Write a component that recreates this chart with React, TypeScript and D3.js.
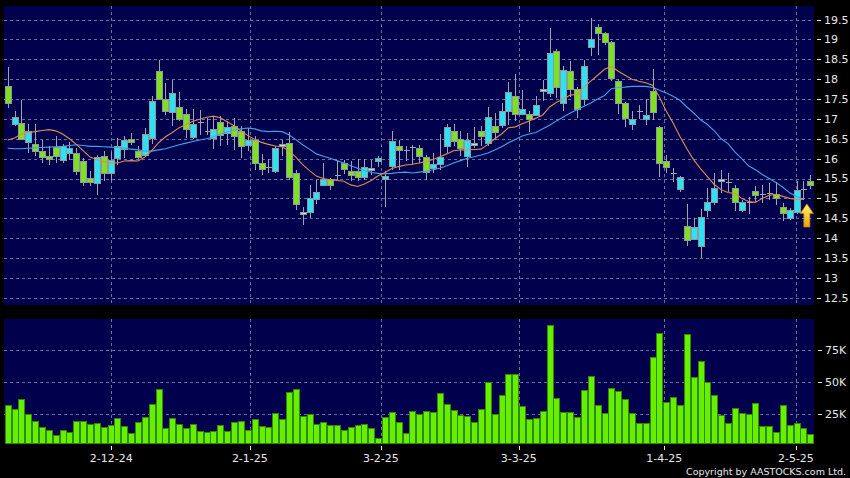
import React from 'react';
import * as d3 from 'd3';

const opens = [17.84,16.88,16.90,16.42,16.36,16.18,16.07,16.29,15.95,16.14,16.14,15.95,15.51,15.38,16.07,15.64,16.01,16.24,16.49,16.20,16.10,16.52,18.20,17.50,17.16,17.30,17.12,16.56,16.91,16.70,16.53,16.92,16.63,16.82,16.69,16.34,16.48,15.89,15.80,15.67,16.35,16.39,15.63,14.62,14.66,14.98,15.34,15.49,15.59,15.89,15.69,15.70,15.54,15.74,15.93,15.49,15.80,16.32,16.22,16.30,16.27,16.03,15.76,15.86,16.32,16.69,16.50,16.07,16.37,16.69,16.41,16.83,16.83,17.19,17.57,17.12,17.12,17.12,17.73,17.65,18.70,17.38,18.20,17.76,17.50,18.81,19.32,19.16,18.94,17.96,17.40,16.88,17.19,17.00,17.71,16.80,15.93,15.65,15.23,14.31,13.96,13.79,14.70,14.91,15.46,15.40,15.26,14.73,14.92,15.18,15.11,15.14,15.11,14.78,14.50,14.66,15.23,15.44];
const highs = [18.31,17.19,17.48,16.88,16.88,16.48,16.31,16.58,16.38,16.41,16.27,16.02,15.68,16.10,16.18,16.17,16.52,16.58,16.64,16.32,16.77,17.57,18.49,17.90,17.99,17.67,17.26,17.25,17.23,17.02,17.06,17.08,16.94,17.02,16.83,16.77,16.58,16.12,15.99,16.32,16.47,16.68,15.72,14.79,15.34,15.47,15.88,15.52,15.93,15.97,15.93,15.99,15.99,15.97,16.06,15.68,16.69,16.46,16.32,16.35,16.35,16.10,16.15,16.63,16.88,16.88,16.69,16.64,16.80,16.81,17.30,17.16,17.40,17.92,18.14,17.74,17.20,17.58,17.99,19.29,18.75,18.34,18.45,17.80,18.49,19.54,19.38,19.20,18.96,18.00,17.42,17.20,17.35,17.50,18.26,16.82,16.10,15.76,15.56,14.86,14.50,14.73,15.25,15.63,15.72,15.65,15.33,14.97,15.04,15.30,15.34,15.38,15.40,14.88,14.75,15.45,15.45,15.58];
const lows = [17.28,16.83,16.46,16.14,16.06,15.90,15.85,15.90,15.90,15.97,15.59,15.32,15.32,15.09,15.43,15.43,15.85,16.01,16.35,15.97,16.05,16.38,17.48,17.11,16.81,16.95,16.52,16.49,16.60,16.60,16.24,16.31,16.35,16.22,16.01,16.18,15.72,15.58,15.64,15.64,16.06,15.47,14.72,14.33,14.50,14.86,15.30,15.22,15.47,15.62,15.43,15.43,15.47,15.59,15.80,14.79,15.72,15.72,15.93,15.85,15.90,15.47,15.64,15.72,16.14,16.31,16.06,15.80,16.27,16.31,16.32,16.48,16.77,16.85,16.94,17.09,16.66,17.11,17.44,17.55,17.53,17.19,17.55,17.02,17.36,18.58,18.62,18.87,17.95,17.13,16.80,16.72,17.00,16.85,16.98,15.55,15.64,15.42,15.15,13.79,13.96,13.49,14.54,14.83,15.14,15.15,14.68,14.66,14.60,14.92,14.88,14.95,14.84,14.44,14.45,14.60,14.96,15.24];
const closes = [17.40,17.05,16.49,16.69,16.19,16.03,15.99,16.07,16.31,16.27,15.68,15.43,15.40,16.03,15.64,15.97,16.31,16.46,16.41,16.06,16.62,17.46,17.50,17.19,17.65,16.99,16.73,16.88,16.91,16.70,16.75,16.60,16.79,16.57,16.32,16.46,15.89,15.74,15.80,16.26,16.38,15.54,14.84,14.65,15.00,15.16,15.49,15.34,15.59,15.74,15.59,15.54,15.80,15.77,16.01,15.57,16.44,16.22,16.22,16.30,16.08,15.64,15.86,16.03,16.79,16.43,16.27,16.48,16.40,16.56,17.06,16.69,17.19,17.68,17.11,17.25,17.00,17.36,17.76,18.66,17.80,18.22,17.75,17.25,18.34,19.00,19.16,18.94,18.03,17.40,17.02,17.00,17.19,17.09,17.17,15.90,15.79,15.65,15.53,13.96,14.27,14.53,14.91,15.25,15.49,15.40,14.92,14.92,14.92,15.07,15.11,15.14,15.01,14.63,14.70,15.21,15.23,15.33];
const volumes = [31800,28900,36200,25000,19200,14800,12200,8500,12200,10600,19500,19200,16900,17400,14300,16300,21800,15300,9800,18400,22100,32600,44100,14000,21300,17100,14000,16600,11400,10400,11600,16100,11600,18200,19200,12200,20800,15300,14800,25500,20800,42200,44100,23200,24500,16900,18700,15900,16300,12200,14800,16100,16900,13700,5900,22600,26100,18400,9600,27300,24700,26800,26500,41400,32300,27900,23900,23200,18700,28600,50100,25000,39400,55900,56400,31200,20600,21800,26800,94600,37500,26500,26000,22600,43600,54600,31800,25300,45100,42500,36200,25700,17900,17900,69200,88100,34400,37800,31800,87500,54000,66600,50100,39600,23900,17900,29400,25700,25000,33600,15300,15300,10600,31800,16300,17400,13500,9300];
const ma10 = [16.47,16.52,16.62,16.66,16.68,16.71,16.73,16.70,16.62,16.50,16.36,16.20,16.04,15.98,15.92,15.90,15.89,15.94,15.95,15.94,16.04,16.20,16.40,16.55,16.66,16.78,16.86,16.94,16.99,17.04,17.07,17.03,16.93,16.83,16.70,16.58,16.48,16.41,16.36,16.32,16.30,16.20,16.04,15.85,15.70,15.56,15.50,15.47,15.45,15.43,15.34,15.30,15.36,15.45,15.57,15.65,15.75,15.80,15.84,15.86,15.89,15.93,15.98,16.05,16.12,16.20,16.22,16.22,16.23,16.24,16.36,16.50,16.62,16.78,16.80,16.88,16.95,17.02,17.10,17.30,17.42,17.50,17.60,17.62,17.80,17.95,18.10,18.25,18.32,18.20,18.10,18.00,17.95,17.91,17.85,17.55,17.20,16.90,16.56,16.25,15.97,15.75,15.55,15.35,15.22,15.15,15.12,15.00,14.92,14.90,15.00,15.08,15.10,15.05,15.00,14.97,14.98];
const ma20 = [16.26,16.25,16.25,16.26,16.27,16.28,16.29,16.30,16.31,16.33,16.35,16.33,16.31,16.31,16.30,16.29,16.28,16.26,16.24,16.22,16.19,16.19,16.22,16.25,16.30,16.35,16.39,16.43,16.47,16.50,16.55,16.62,16.67,16.72,16.75,16.77,16.75,16.70,16.68,16.69,16.68,16.60,16.48,16.35,16.24,16.12,16.06,16.01,15.95,15.89,15.82,15.76,15.70,15.65,15.63,15.62,15.63,15.65,15.66,15.64,15.66,15.68,15.72,15.76,15.82,15.89,15.95,16.01,16.05,16.09,16.14,16.22,16.30,16.40,16.48,16.57,16.62,16.66,16.75,16.84,16.95,17.05,17.15,17.23,17.32,17.40,17.50,17.59,17.76,17.79,17.80,17.82,17.82,17.82,17.79,17.72,17.65,17.57,17.47,17.30,17.15,16.98,16.86,16.70,16.50,16.38,16.17,16.00,15.82,15.72,15.60,15.50,15.40,15.28,15.14,15.05,14.98];

const dateLabels = ['2-12-24', '2-1-25', '3-2-25', '3-3-25', '1-4-25', '2-5-25'];
const dateTickIdx = [15.1, 35.3, 54.4, 74.5, 95.7, 114.9];
const priceTicks = [12.5, 13, 13.5, 14, 14.5, 15, 15.5, 16, 16.5, 17, 17.5, 18, 18.5, 19, 19.5];
const volTicks = [25000, 50000, 75000];
const volTickLabels = ['25K', '50K', '75K'];
const arrowIdx = 116.5;
const arrowPrice = 14.86;

const FONT = '"DejaVu Sans", Verdana, sans-serif';
const NAVY = '#00004c';
const GRID = '#6e6e9c';
const TXT = '#e8e8e8';
const GREEN = '#7ee01e';
const CYAN = '#2fe2f2';
const OUTLINE = '#8f9aa0';
const WICK = '#a4a4a4';

export default function App() {
  const N = opens.length;
  const mainT = 6, mainB = 305, volT = 319, volB = 443.5, L = 4, R = 814;
  const x = d3.scaleLinear().domain([0, N - 1]).range([7.7, 810.3]);
  const y = d3.scaleLinear().domain([12.5, 19.5]).range([297.7, 19.6]);
  const yv = d3.scaleLinear().domain([0, 75000]).range([445.5, 350]);

  const line10 = d3.line<number>().x((_, i) => x(i)).y((d) => y(d));
  const px = (i: number) => Math.round(x(i));

  const ax = x(arrowIdx);
  const ay = y(arrowPrice);
  const arrowPath = `M${ax},${ay} L${ax + 6.5},${ay + 9.5} L${ax + 3},${ay + 9.5} L${ax + 3},${ay + 23} L${ax - 3},${ay + 23} L${ax - 3},${ay + 9.5} L${ax - 6.5},${ay + 9.5} Z`;

  return (
    <svg width={850} height={478} style={{ position: 'absolute', left: 0, top: 0, background: '#000' }} fontFamily={FONT}>
      <defs>
        <linearGradient id="arrowGrad" x1="0" y1="0" x2="0" y2="1">
          <stop offset="0" stopColor="#fff27a" />
          <stop offset="1" stopColor="#f0a400" />
        </linearGradient>
        <clipPath id="mainClip"><rect x={L} y={mainT} width={R - L} height={mainB - mainT} /></clipPath>
      </defs>
      <rect x={0} y={0} width={850} height={478} fill="#000" />
      <rect x={L} y={mainT} width={R - L} height={mainB - mainT} fill={NAVY} />
      <rect x={L} y={volT} width={R - L} height={volB - volT} fill={NAVY} />

      {/* grid main */}
      {priceTicks.map((p) => (
        <line key={'pg' + p} x1={L} x2={R} y1={Math.round(y(p)) + 0.5} y2={Math.round(y(p)) + 0.5} stroke={GRID} strokeDasharray="3,3" />
      ))}
      {dateTickIdx.map((t) => (
        <g key={'vg' + t}>
          <line x1={Math.round(x(t)) + 0.5} x2={Math.round(x(t)) + 0.5} y1={mainT} y2={mainB} stroke={GRID} strokeDasharray="3,3" />
          <line x1={Math.round(x(t)) + 0.5} x2={Math.round(x(t)) + 0.5} y1={volT} y2={volB} stroke={GRID} strokeDasharray="3,3" />
        </g>
      ))}
      {volTicks.map((v) => (
        <line key={'vgl' + v} x1={L} x2={R} y1={Math.round(yv(v)) + 0.5} y2={Math.round(yv(v)) + 0.5} stroke={GRID} strokeDasharray="3,3" />
      ))}

      {/* candles */}
      <g clipPath="url(#mainClip)">
        {opens.map((o, i) => {
          const c = closes[i];
          const cx = px(i);
          const up = c > o;
          const doji = c === o;
          const top = y(Math.max(o, c));
          const bot = y(Math.min(o, c));
          let h = bot - top;
          const small = Math.abs(c - o) < 0.04;
          return (
            <g key={'c' + i} shapeRendering="crispEdges">
              <line x1={cx + 0.5} x2={cx + 0.5} y1={y(highs[i])} y2={y(lows[i])} stroke={WICK} strokeWidth={1} />
              {doji ? (
                <line x1={cx - 2.5} x2={cx + 3.5} y1={Math.round(top) + 0.5} y2={Math.round(top) + 0.5} stroke={WICK} strokeWidth={1} />
              ) : (
                <rect
                  x={cx - 2.5}
                  y={Math.round(top) + 0.5}
                  width={6}
                  height={Math.max(2, Math.round(h))}
                  fill={up ? (small ? '#9fe9f2' : CYAN) : GREEN}
                  stroke={OUTLINE}
                  strokeWidth={1}
                />
              )}
            </g>
          );
        })}
        <path d={line10(ma20) || ''} fill="none" stroke="#3fa4ee" strokeWidth={1.1} />
        <path d={line10(ma10) || ''} fill="none" stroke="#e08a58" strokeWidth={1.1} />
        <path d={arrowPath} fill="url(#arrowGrad)" stroke="#c88a00" strokeWidth={0.8} />
      </g>

      {/* volume */}
      {volumes.map((v, i) => (
        <rect
          key={'v' + i}
          x={px(i) - 2.5}
          y={Math.round(yv(v)) + 0.5}
          width={6}
          height={Math.max(1, volB - Math.round(yv(v)) - 1)}
          fill="#66f000"
          stroke="#2f8a00"
          strokeWidth={1}
          shapeRendering="crispEdges"
        />
      ))}

      {/* right axis */}
      {priceTicks.map((p) => (
        <g key={'pt' + p}>
          <line x1={817} x2={821} y1={Math.round(y(p)) + 0.5} y2={Math.round(y(p)) + 0.5} stroke={TXT} />
          <text x={824} y={y(p)} dy="0.36em" fontSize={11} fill={TXT}>{String(p)}</text>
        </g>
      ))}
      {volTicks.map((v, k) => (
        <g key={'vt' + v}>
          <line x1={818} x2={822} y1={Math.round(yv(v)) + 0.5} y2={Math.round(yv(v)) + 0.5} stroke={TXT} />
          <text x={825} y={yv(v)} dy="0.36em" fontSize={11} fill={TXT}>{volTickLabels[k]}</text>
        </g>
      ))}

      {/* x axis */}
      {dateTickIdx.map((t, k) => (
        <g key={'xt' + t}>
          <line x1={Math.round(x(t)) + 0.5} x2={Math.round(x(t)) + 0.5} y1={446} y2={450} stroke={TXT} />
          <text x={x(t)} y={462} textAnchor="middle" fontSize={11} fill={TXT}>{dateLabels[k]}</text>
        </g>
      ))}

      <text x={846} y={475} textAnchor="end" fontSize={9.5} fill={TXT}>Copyright by AASTOCKS.com Ltd.</text>
    </svg>
  );
}
